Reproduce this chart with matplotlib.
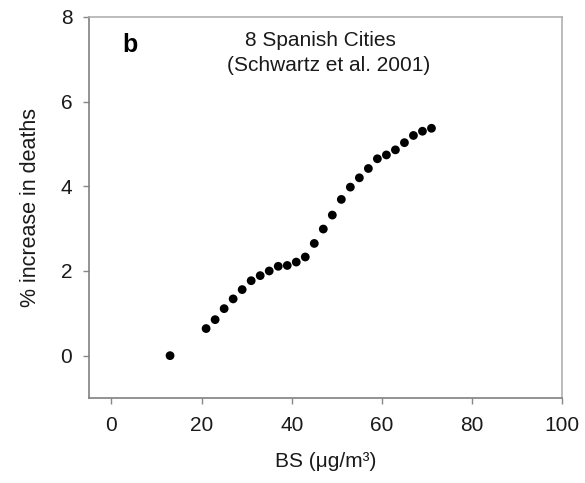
import matplotlib
matplotlib.use("Agg")
import matplotlib.pyplot as plt

plt.rcParams['font.family'] = ['Liberation Sans', 'DejaVu Sans']

# Black smoke concentration (ug/m3) and estimated % increase in deaths
bs_conc = [13, 21, 23, 25, 27, 29, 31, 33, 35, 37, 39, 41, 43, 45, 47, 49,
           51, 53, 55, 57, 59, 61, 63, 65, 67, 69, 71]
pct_increase = [0.00, 0.64, 0.85, 1.11, 1.34, 1.56, 1.77, 1.89, 2.00, 2.11,
                2.13, 2.21, 2.33, 2.65, 2.99, 3.32, 3.69, 3.98, 4.20, 4.42,
                4.65, 4.74, 4.86, 5.03, 5.20, 5.30, 5.37]

x_ticks = [0, 20, 40, 60, 80, 100]
y_ticks = [0, 2, 4, 6, 8]

fig = plt.figure(figsize=(5.85, 4.83), dpi=100)
ax = fig.add_axes([0.152, 0.176, 0.809, 0.789])

ax.scatter(bs_conc, pct_increase, s=40, color='black', edgecolors='none', zorder=3)

ax.set_xlim(-5, 100)
ax.set_ylim(-1, 8)
ax.set_xticks(x_ticks)
ax.set_yticks(y_ticks)
ax.tick_params(axis='both', direction='out', length=4, width=1, color='#888888',
               labelsize=15, labelcolor='#1a1a1a')
ax.tick_params(axis='x', pad=9)
ax.tick_params(axis='y', pad=8)

for side in ('left', 'bottom'):
    ax.spines[side].set_color('#808080')
    ax.spines[side].set_linewidth(1.2)
for side in ('top', 'right'):
    ax.spines[side].set_color('#b0b0b0')
    ax.spines[side].set_linewidth(1.2)

ax.set_xlabel('BS (\u03bcg/m\u00b3)', fontsize=15, labelpad=12, color='#1a1a1a')
ax.set_ylabel('% increase in deaths', fontsize=15.5, labelpad=14, color='#1a1a1a')

ax.text(4.1, 7.33, 'b', fontsize=18, fontweight='bold', ha='center', va='center')
ax.text(46.4, 7.45, '8 Spanish Cities', fontsize=15, ha='center', va='center',
        color='#1a1a1a')
ax.text(48.2, 6.86, '(Schwartz et al. 2001)', fontsize=15, ha='center', va='center',
        color='#1a1a1a')

fig.savefig('out.png', dpi=100)
